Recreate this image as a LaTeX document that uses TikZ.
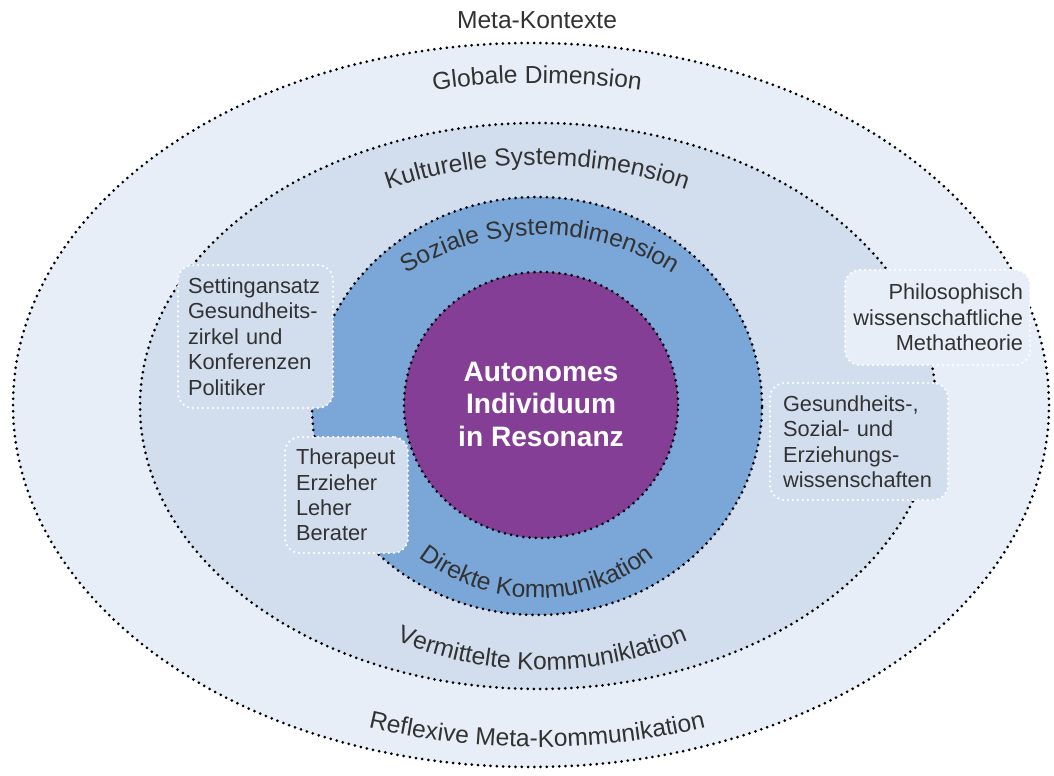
\documentclass[tikz,border=0pt]{standalone}
\usepackage{fontspec}
\setmainfont{Liberation Sans}
\usetikzlibrary{decorations.text}

\newcommand{\curvefont}{\fontsize{14}{17}\selectfont}
\newcommand{\boxfont}{\fontsize{12.4}{14.5}\selectfont}

\begin{document}
\begin{tikzpicture}[x=0.02cm, y=0.02cm,
    ringline/.style={line width=0.6mm, dash pattern=on 0pt off 1.25mm, line cap=round},
    infobox/.style={draw=white, line width=0.5mm, dash pattern=on 0pt off 1mm, line cap=round,
        rounded corners=3mm, font=\boxfont, text=colortext, inner ysep=0pt},
    curvelabel/.style={decorate, decoration={text along path, text align=center,
        text={|\curvefont\color{colortext}|#1}}}]
    \definecolor{colorglobal}{RGB}{232,238,248}
    \definecolor{colorkultur}{RGB}{210,222,238}
    \definecolor{colorsozial}{RGB}{122,166,216}
    \definecolor{colorindiv}{RGB}{132,62,150}
    \definecolor{colortext}{RGB}{50,50,50}
    \useasboundingbox (0,0) rectangle (1054,776);
    % Rings
    \draw[ringline, fill=colorglobal] (531,371) ellipse [x radius=518, y radius=362];
    \draw[ringline, fill=colorkultur] (538,370) ellipse [x radius=398, y radius=283];
    \draw[ringline, fill=colorsozial] (537,370) ellipse [x radius=225, y radius=209];
    \draw[ringline, fill=colorindiv] (541,371) ellipse [x radius=137, y radius=133];
    % Ring labels, top
    \node[font=\curvefont, text=colortext] (meta) at (537,756) {Meta-Kontexte};
    \path[curvelabel={Globale Dimension}] (537,-54) ++(105:747) arc[start angle=105, end angle=75, radius=747];
    \path[curvelabel={Kulturelle Systemdimension}] (537,149) ++(118:462) arc[start angle=118, end angle=62, radius=462];
    \path[curvelabel={Soziale Systemdimension}] (540,291) ++(130:250) arc[start angle=130, end angle=50, radius=250];
    % Ring labels, bottom
    \path[curvelabel={Direkte Kommunikation}] (537,369) ++(210:191) arc[start angle=210, end angle=330, radius=191];
    \path[curvelabel={Vermittelte Kommuniklation}] (542,486) ++(240:380) arc[start angle=240, end angle=300, radius=380];
    \path[curvelabel={Reflexive Meta-Kommunikation}] (537,761) ++(255:732) arc[start angle=255, end angle=285, radius=732];
    % Centre
    \node[font=\bfseries\fontsize{16}{18.5}\selectfont, text=white, align=center] (indiv) at (541,372)
        {Autonomes\\Individuum\\in Resonanz};
    % Boxes
    \node[infobox, fill=colorkultur, minimum height=2.86cm, inner xsep=0.2cm, text width=2.7cm, align=left]
        (setting) at (255.5,439.5) {Settingansatz\\Gesundheits-\\zirkel und\\Konferenzen\\Politiker};
    \node[infobox, fill=colorkultur, minimum height=2.32cm, inner xsep=0.22cm, text width=2.02cm, align=left]
        (praxis) at (346.5,281) {Therapeut\\Erzieher\\Leher\\Berater};
    \node[infobox, fill=colorkultur, minimum height=2.34cm, inner xsep=0.26cm, text width=3.04cm, align=left]
        (wissen) at (859,334.5) {Gesundheits-,\\Sozial- und\\Erziehungs-\\wissenschaften};
    \node[infobox, fill=colorglobal, minimum height=1.9cm, inner xsep=0.14cm, text width=3.42cm, align=right]
        (philo) at (937.5,458.5) {Philosophisch\\wissenschaftliche\\Methatheorie};
\end{tikzpicture}
\end{document}
